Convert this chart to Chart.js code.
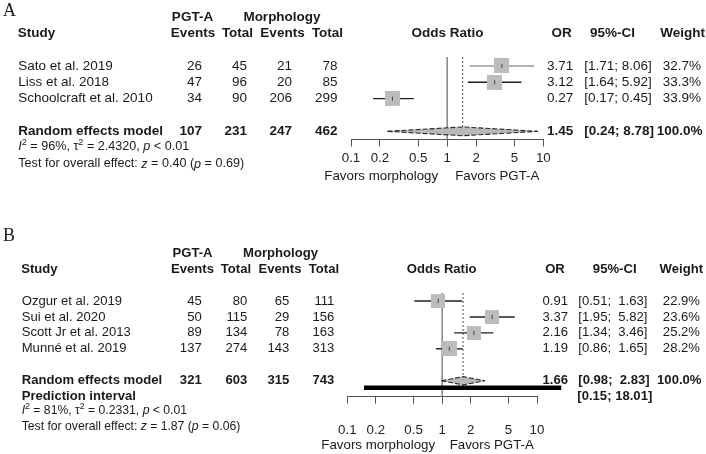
<!DOCTYPE html>
<html><head><meta charset="utf-8">
<script src="https://cdn.jsdelivr.net/npm/chart.js@4"></script>
<style>
body{margin:0;background:#fff;width:706px;height:454px;overflow:hidden;position:relative}
canvas{position:absolute;left:0}
</style></head><body>
<canvas id="ca" width="706" height="190" style="top:0px"></canvas>
<canvas id="cb" width="706" height="264" style="top:190px"></canvas>
<script>
// ---------- shared ----------
const tickValues = [0.1, 0.2, 0.5, 1, 2, 5, 10];
const groupLabels = ['PGT-A', 'Morphology'];
const colHeaders = ['Events', 'Total', 'Events', 'Total'];
const rightHeaders = ['OR', '95%-CI', 'Weight'];
const favorLabels = ['Favors morphology', 'Favors PGT-A'];

// ---------- panel A ----------
const studiesA = ['Sato et al. 2019', 'Liss et al. 2018', 'Schoolcraft et al. 2010'];
const pgtEventsA = [26, 47, 34];
const pgtTotalA = [45, 96, 90];
const morEventsA = [21, 20, 206];
const morTotalA = [78, 85, 299];
const orA = [3.71, 3.12, 0.27];
const lowerA = [1.71, 1.64, 0.17];
const upperA = [8.06, 5.92, 0.45];
const weightA = [32.7, 33.3, 33.9];
const totalsA = [107, 231, 247, 462];
const pooledA = [1.45, 0.24, 8.78];
const hetA = ['96%', '2.4320', '< 0.01'];
const testA = ['0.40', '0.69'];

// ---------- panel B ----------
const studiesB = ['Ozgur et al. 2019', 'Sui et al. 2020', 'Scott Jr et al. 2013', 'Munné et al. 2019'];
const pgtEventsB = [45, 50, 89, 137];
const pgtTotalB = [80, 115, 134, 274];
const morEventsB = [65, 29, 78, 143];
const morTotalB = [111, 156, 163, 313];
const orB = [0.91, 3.37, 2.16, 1.19];
const lowerB = [0.51, 1.95, 1.34, 0.86];
const upperB = [1.63, 5.82, 3.46, 1.65];
const weightB = [22.9, 23.6, 25.2, 28.2];
const totalsB = [321, 603, 315, 743];
const pooledB = [1.66, 0.98, 2.83];
const predB = [0.15, 18.01];
const hetB = ['81%', '0.2331', '< 0.01'];
const testB = ['1.87', '0.06'];

const LS = '"Liberation Sans", Arial, sans-serif';

function fmtCI(lo, hi, w) {
  return '[' + lo.toFixed(2) + '; ' + hi.toFixed(2).padStart(w, ' ') + ']';
}

function squareSprite(side) {
  const s = Math.round(side);
  const c = document.createElement('canvas');
  c.width = s; c.height = s;
  const g = c.getContext('2d');
  g.fillStyle = '#bcbcbc';
  g.fillRect(0, 0, s, s);
  return c;
}

function rich(ctx, x, y, segs, size) {
  let cx = x;
  ctx.textAlign = 'left';
  for (const s of segs) {
    const fs = s.sup ? size * 0.72 : size;
    ctx.font = (s.i ? 'italic ' : '') + fs + 'px ' + LS;
    const dy = s.sup ? -size * 0.36 : 0;
    ctx.fillText(s.t, cx, y + dy);
    cx += ctx.measureText(s.t).width;
  }
}

function drawText(chart, p) {
  const ctx = chart.ctx;
  ctx.save();
  ctx.fillStyle = '#1a1a1a';
  ctx.textBaseline = 'middle';
  const F = (w, s) => w + ' ' + s + 'px ' + LS;
  const put = (t, x, y, align, font) => { ctx.font = font; ctx.textAlign = align; ctx.fillText(t, x, y); };
  const rowY = v => chart.scales.y.getPixelForValue(v);
  const x1 = chart.scales.x.getPixelForValue(1);
  const bold = F('bold', p.fs), reg = F('normal', p.fs);

  ctx.font = '18px "Liberation Serif", "Times New Roman", serif';
  ctx.textAlign = 'left';
  ctx.fillText(p.letter, 3, p.letterY);

  put(groupLabels[0], p.groupX[0], p.groupY, 'center', bold);
  put(groupLabels[1], p.groupX[1], p.groupY, 'center', bold);
  put('Study', p.studyX - 0.5, p.headY, 'left', bold);
  colHeaders.forEach((h, i) => put(h, p.headX[i], p.headY, 'center', bold));
  put('Odds Ratio', p.orHeadX, p.headY, 'center', bold);
  rightHeaders.forEach((h, i) => put(h, p.rightHeadX[i], p.headY, 'center', bold));

  const uppers = p.upper.concat([p.pooled[2]]).concat(p.pred ? [p.pred[1]] : []);
  const w = Math.max(...uppers.map(v => v.toFixed(2).length));

  p.studies.forEach((s, i) => {
    const y = rowY(i + 1);
    put(s, p.studyX, y, 'left', reg);
    [p.ev1[i], p.n1[i], p.ev2[i], p.n2[i]].forEach((v, j) => put(String(v), p.dataX[j], y, 'right', reg));
    put(p.or[i].toFixed(2), p.orX, y, 'right', reg);
    put(fmtCI(p.lower[i], p.upper[i], w), p.ciX, y, 'left', reg);
    put(p.weight[i].toFixed(1) + '%', p.wX, y, 'right', reg);
  });
  const yRE = rowY(p.reRow);
  put('Random effects model', p.studyX, yRE, 'left', bold);
  p.totals.forEach((v, j) => put(String(v), p.dataX[j], yRE, 'right', bold));
  put(p.pooled[0].toFixed(2), p.orX, yRE, 'right', bold);
  put(fmtCI(p.pooled[1], p.pooled[2], w), p.ciX, yRE, 'left', bold);
  put('100.0%', p.wX + 1.5, yRE, 'right', bold);

  if (p.pred) {
    put('Prediction interval', p.studyX, rowY(p.piTextRow), 'left', bold);
    put(fmtCI(p.pred[0], p.pred[1], w), p.ciX - 1, rowY(p.piCIRow), 'left', bold);
  }

  ctx.fillStyle = '#1a1a1a';
  rich(ctx, p.studyX, p.foot1Y, [
    {t: 'I', i: true}, {t: '2', sup: true}, {t: ' = ' + p.het[0] + ', '},
    {t: 'τ'}, {t: '2', sup: true}, {t: ' = ' + p.het[1] + ', '},
    {t: 'p', i: true}, {t: ' ' + p.het[2]}
  ], p.footFs);
  rich(ctx, p.studyX, p.foot2Y, [
    {t: 'Test for overall effect: '}, {t: 'z', i: true}, {t: ' = ' + p.test[0] + ' ('},
    {t: 'p', i: true}, {t: ' = ' + p.test[1] + ')'}
  ], p.footFs);

  put(favorLabels[0], x1 - p.favGap[0], p.favY, 'right', F('normal', 13.3));
  put(favorLabels[1], x1 + p.favGap[1], p.favY, 'left', F('normal', 13.3));
  ctx.restore();
}

function buildPanel(id, p) {
  const rows = p.studies.map((_, i) => i + 1);
  const maxW = Math.max(...p.weight);
  const ds = [];
  const base = {pointRadius: 0, clip: false, tension: 0, fill: false};
  // no-effect line
  ds.push(Object.assign({}, base, {data: [{x: 1, y: p.yMin}, {x: 1, y: p.yMax}], borderColor: '#707070', borderWidth: 1.3, order: 20}));
  // pooled estimate dotted line
  ds.push(Object.assign({}, base, {data: [{x: p.pooled[0], y: p.yMin}, {x: p.pooled[0], y: p.dotEnd}], borderColor: '#6a6a6a', borderWidth: 1.2, borderDash: [2, 2], order: 19}));
  // confidence intervals
  p.studies.forEach((s, i) => ds.push(Object.assign({}, base, {
    data: [{x: p.lower[i], y: rows[i]}, {x: p.upper[i], y: rows[i]}],
    borderColor: p.ciColors[i], borderWidth: 1.4, order: 10
  })));
  // weight squares (area proportional to weight)
  ds.push(Object.assign({}, base, {
    data: p.or.map((v, i) => ({x: v, y: rows[i]})), showLine: false,
    pointStyle: p.weight.map(wt => squareSprite(p.sq * Math.sqrt(wt / maxW))),
    pointRadius: 5, borderWidth: 0, order: 5
  }));
  // point estimate marks
  ds.push(Object.assign({}, base, {
    data: p.or.map((v, i) => ({x: v, y: rows[i]})), showLine: false,
    pointStyle: 'line', rotation: 90, pointRadius: 2, borderColor: '#444', borderWidth: 1, order: 4
  }));
  // diamond: upper and lower halves
  const h = p.diaH;
  ds.push(Object.assign({}, base, {
    data: [{x: p.pooled[1], y: p.reRow}, {x: p.pooled[0], y: p.reRow - h}, {x: p.pooled[2], y: p.reRow}],
    borderColor: '#2a2a2a', borderWidth: 1.1, borderDash: [5, 2], order: 2
  }));
  ds.push(Object.assign({}, base, {
    data: [{x: p.pooled[1], y: p.reRow}, {x: p.pooled[0], y: p.reRow + h}, {x: p.pooled[2], y: p.reRow}],
    borderColor: '#2a2a2a', borderWidth: 1.1, borderDash: [5, 2], fill: '-1', backgroundColor: '#b8b8b8', order: 2
  }));
  if (p.pred) {
    ds.push(Object.assign({}, base, {
      data: [{x: p.pred[0], y: p.piBarRow}, {x: p.pred[1], y: p.piBarRow}],
      borderColor: '#000', borderWidth: 4.5, borderCapStyle: 'butt', order: 1
    }));
  }

  return new Chart(document.getElementById(id), {
    type: 'line',
    data: {datasets: ds},
    options: {
      responsive: false, animation: false, devicePixelRatio: 1,
      layout: {padding: {left: p.left, right: 706 - p.right, top: p.top, bottom: 0}},
      plugins: {legend: {display: false}, tooltip: {enabled: false}},
      scales: {
        x: {
          type: 'logarithmic', min: 0.1, max: 10,
          afterBuildTicks: s => { s.ticks = tickValues.map(v => ({value: v})); },
          afterFit: s => { s.height = p.axisH; },
          ticks: {callback: v => String(v), font: {family: LS, size: 13.3}, color: '#222', padding: p.tickPad, autoSkip: false, maxRotation: 0},
          grid: {drawOnChartArea: false, drawTicks: true, tickLength: 7, color: '#555', lineWidth: 1},
          border: {display: true, color: '#555', width: 1}
        },
        y: {type: 'linear', display: false, reverse: true, min: p.yMin, max: p.yMax}
      }
    },
    plugins: [{id: 'tableText', afterDraw: c => drawText(c, p)}]
  });
}

buildPanel('ca', {
  letter: 'A', letterY: 11,
  studies: studiesA, ev1: pgtEventsA, n1: pgtTotalA, ev2: morEventsA, n2: morTotalA,
  or: orA, lower: lowerA, upper: upperA, weight: weightA, totals: totalsA, pooled: pooledA,
  het: hetA, test: testA,
  ciColors: ['#9a9a9a', '#1e1e1e', '#1e1e1e'],
  fs: 13.5, footFs: 12.6,
  left: 351, right: 543.3, top: 57, axisH: 50.5, tickPad: 4,
  yMin: 0.45, yMax: 5.5, reRow: 5, dotEnd: 4.75, diaH: 0.27, sq: 15,
  groupX: [192.5, 282], groupY: 17, headY: 33, studyX: 18.3,
  headX: [193, 237.5, 282.5, 327.5], dataX: [202, 247, 292, 337.5],
  orHeadX: 447.5, rightHeadX: [561.7, 612.5, 682.5],
  orX: 573.3, ciX: 584.3, wX: 701,
  foot1Y: 146.7, foot2Y: 164, favY: 176.5, favGap: [9, 8]
});

buildPanel('cb', {
  letter: 'B', letterY: 46.7,
  studies: studiesB, ev1: pgtEventsB, n1: pgtTotalB, ev2: morEventsB, n2: morTotalB,
  or: orB, lower: lowerB, upper: upperB, weight: weightB, totals: totalsB, pooled: pooledB,
  pred: predB, het: hetB, test: testB,
  ciColors: ['#1e1e1e', '#1e1e1e', '#1e1e1e', '#1e1e1e'],
  fs: 13.1, footFs: 12.2,
  left: 347.3, right: 537, top: 103, axisH: 57.3, tickPad: 18.5,
  yMin: 0.5, yMax: 7, reRow: 6, piBarRow: 6.44, piTextRow: 7, piCIRow: 6.95, dotEnd: 6.35, diaH: 0.26, sq: 15,
  groupX: [192.5, 280.5], groupY: 63.3, headY: 79, studyX: 21.7,
  headX: [192.5, 236, 280, 324], dataX: [201.7, 247.3, 289.3, 334.3],
  orHeadX: 441.7, rightHeadX: [555, 614.7, 681.3],
  orX: 568, ciX: 578.3, wX: 700,
  foot1Y: 221, foot2Y: 236.7, favY: 255.7, favGap: [7, 7.5]
});
</script>
</body></html>
